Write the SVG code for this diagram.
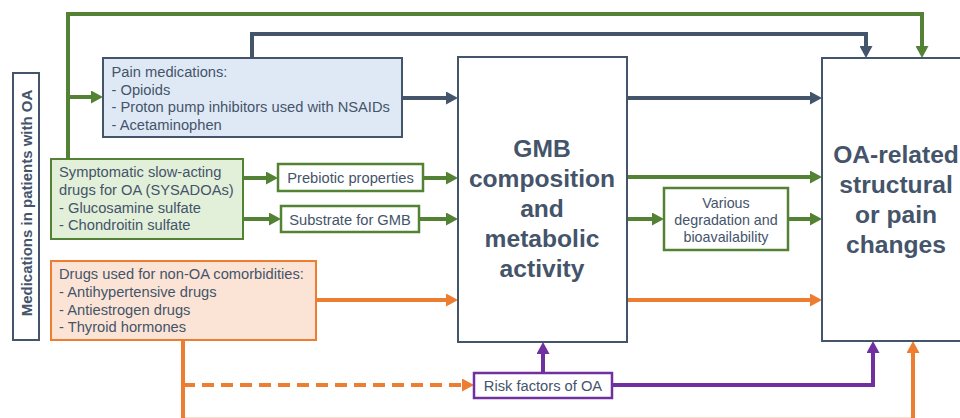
<svg xmlns="http://www.w3.org/2000/svg" width="960" height="418" viewBox="0 0 960 418">
<style>
text{font-family:"Liberation Sans",Arial,sans-serif;fill:#44546a}
.t{font-size:14.7px}
.s{font-size:14.3px}
.b{font-size:24.6px;font-weight:bold}
.m{text-anchor:middle}
.c{fill:none;stroke-width:4}
.dk{stroke:#44546a}
.gr{stroke:#548235}
.or{stroke:#ed7d31}
.pu{stroke:#7030a0}
</style>
<defs>
<marker id="adk" viewBox="0 0 12 13" refX="4" refY="6.5" markerWidth="12" markerHeight="13" markerUnits="userSpaceOnUse" orient="auto"><path d="M0,0 L12,6.5 L0,13 z" fill="#44546a"/></marker>
<marker id="agr" viewBox="0 0 12 13" refX="4" refY="6.5" markerWidth="12" markerHeight="13" markerUnits="userSpaceOnUse" orient="auto"><path d="M0,0 L12,6.5 L0,13 z" fill="#548235"/></marker>
<marker id="aor" viewBox="0 0 12 13" refX="4" refY="6.5" markerWidth="12" markerHeight="13" markerUnits="userSpaceOnUse" orient="auto"><path d="M0,0 L12,6.5 L0,13 z" fill="#ed7d31"/></marker>
<marker id="apu" viewBox="0 0 12 13" refX="4" refY="6.5" markerWidth="12" markerHeight="13" markerUnits="userSpaceOnUse" orient="auto"><path d="M0,0 L12,6.5 L0,13 z" fill="#7030a0"/></marker>
</defs>
<rect width="960" height="418" fill="#ffffff"/>
<g id="connectors">
<path class="c gr" d="M68,159 V14 H922 V50" marker-end="url(#agr)"/>
<path class="c gr" d="M68,97 H95" marker-end="url(#agr)"/>
<path class="c dk" d="M252,58 V34 H866 V50" marker-end="url(#adk)"/>
<path class="c dk" d="M402,98 H450" marker-end="url(#adk)"/>
<path class="c dk" d="M627,98 H814" marker-end="url(#adk)"/>
<path class="c gr" d="M243,178 H270" marker-end="url(#agr)"/>
<path class="c gr" d="M423,178 H450" marker-end="url(#agr)"/>
<path class="c gr" d="M243,219 H273" marker-end="url(#agr)"/>
<path class="c gr" d="M419,219 H450" marker-end="url(#agr)"/>
<path class="c gr" d="M627,177 H814" marker-end="url(#agr)"/>
<path class="c gr" d="M627,219 H656" marker-end="url(#agr)"/>
<path class="c gr" d="M788,219 H814" marker-end="url(#agr)"/>
<path class="c or" d="M316,300 H450" marker-end="url(#aor)"/>
<path class="c or" d="M627,300 H814" marker-end="url(#aor)"/>
<path class="c or" d="M183,340 V419.8 H913 V349" marker-end="url(#aor)" stroke-width="4.4"/>
<path class="c or" d="M183,385 H466" stroke-dasharray="12 7" marker-end="url(#aor)"/>
<path class="c pu" d="M543,373 V350" marker-end="url(#apu)"/>
<path class="c pu" d="M612,385 H873 V349" marker-end="url(#apu)"/>
</g>
<g id="label">
<rect x="13" y="73" width="26" height="267" fill="#ffffff" stroke="#44546a" stroke-width="2"/>
<text transform="translate(32,203) rotate(-90)" class="m" font-size="15" font-weight="bold">Medications in patients with OA</text>
</g>
<g id="pain">
<rect x="103" y="58" width="299" height="79" fill="#dfe9f5" stroke="#44546a" stroke-width="2"/>
<text class="t" x="111.5" y="77">Pain medications:</text>
<text class="t" x="111.5" y="94.5">- Opioids</text>
<text class="t" x="111.5" y="112">- Proton pump inhibitors used with NSAIDs</text>
<text class="t" x="111.5" y="129.5">- Acetaminophen</text>
</g>
<g id="sysadoa">
<rect x="51" y="159" width="192" height="80" fill="#e2efd9" stroke="#548235" stroke-width="2"/>
<text class="t" x="59" y="177">Symptomatic slow-acting</text>
<text class="t" x="59" y="195">drugs for OA (SYSADOAs)</text>
<text class="t" x="59" y="212.5">- Glucosamine sulfate</text>
<text class="t" x="59" y="230">- Chondroitin sulfate</text>
</g>
<g id="comorb">
<rect x="51" y="261" width="265" height="79" fill="#fbe4d5" stroke="#ed7d31" stroke-width="2"/>
<text class="t" x="59" y="279">Drugs used for non-OA comorbidities:</text>
<text class="t" x="59" y="297">- Antihypertensive drugs</text>
<text class="t" x="59" y="314.5">- Antiestrogen drugs</text>
<text class="t" x="59" y="332">- Thyroid hormones</text>
</g>
<g id="prebiotic">
<rect x="278" y="164" width="145" height="27" fill="#ffffff" stroke="#548235" stroke-width="2.5"/>
<text class="t m" x="350.5" y="183">Prebiotic properties</text>
</g>
<g id="substrate">
<rect x="281" y="206" width="138" height="26" fill="#ffffff" stroke="#548235" stroke-width="2.5"/>
<text class="t m" x="350" y="225">Substrate for GMB</text>
</g>
<g id="gmb">
<rect x="458" y="57" width="169" height="285" fill="#ffffff" stroke="#44546a" stroke-width="2"/>
<text class="b m" x="542" y="157">GMB</text>
<text class="b m" x="542" y="187">composition</text>
<text class="b m" x="542" y="217">and</text>
<text class="b m" x="542" y="247">metabolic</text>
<text class="b m" x="542" y="277">activity</text>
</g>
<g id="various">
<rect x="664" y="188" width="124" height="62" fill="#ffffff" stroke="#548235" stroke-width="2.5"/>
<text class="s m" x="726" y="208">Various</text>
<text class="s m" x="726" y="225">degradation and</text>
<text class="s m" x="726" y="242">bioavailability</text>
</g>
<g id="oa">
<rect x="822" y="58" width="180" height="283" fill="#ffffff" stroke="#44546a" stroke-width="2"/>
<text class="b m" x="896" y="163">OA-related</text>
<text class="b m" x="896" y="193">structural</text>
<text class="b m" x="896" y="223">or pain</text>
<text class="b m" x="896" y="253">changes</text>
</g>
<g id="risk">
<rect x="474" y="373" width="138" height="25" fill="#ffffff" stroke="#7030a0" stroke-width="2.5"/>
<text class="t m" x="543" y="390.5">Risk factors of OA</text>
</g>
</svg>
